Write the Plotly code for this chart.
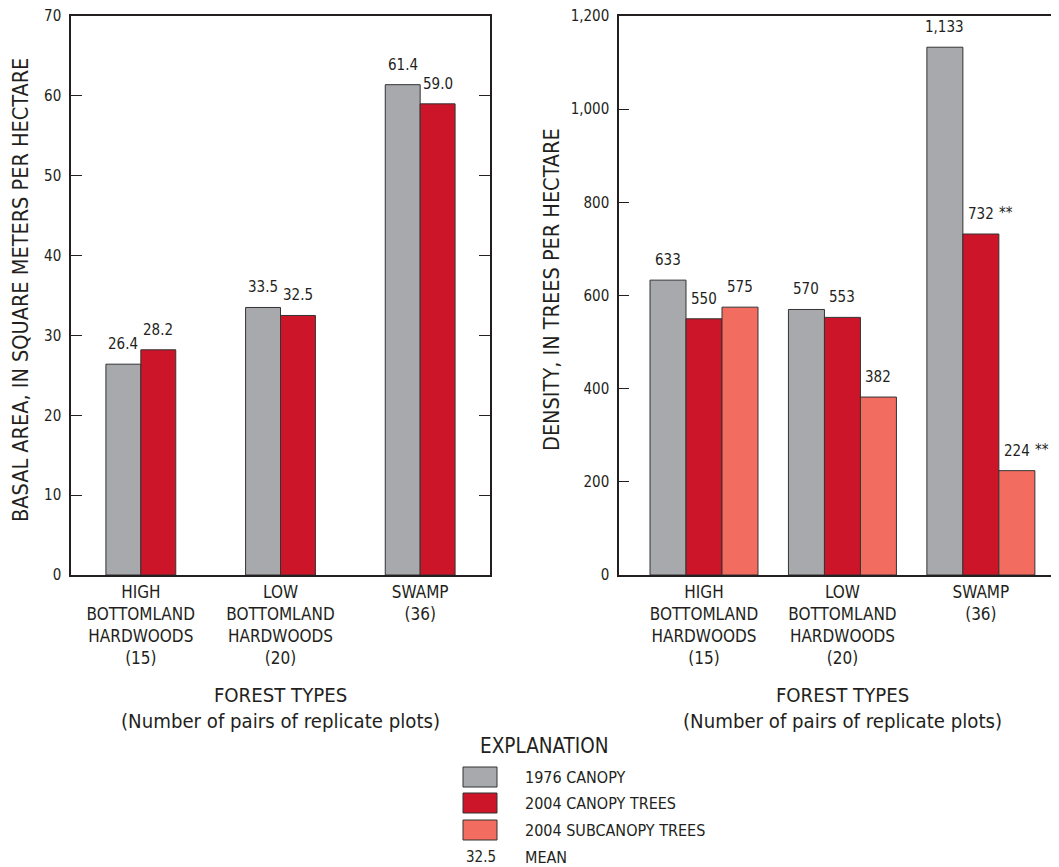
import plotly.graph_objects as go

# ---------------- data ----------------
categories = [
    "HIGH<br>BOTTOMLAND<br>HARDWOODS<br>(15)",
    "LOW<br>BOTTOMLAND<br>HARDWOODS<br>(20)",
    "SWAMP<br>(36)",
]
basal_1976 = [26.4, 33.5, 61.4]
basal_2004 = [28.2, 32.5, 59.0]
density_1976 = [633, 570, 1133]
density_2004_canopy = [550, 553, 732]
density_2004_subcanopy = [575, 382, 224]
density_2004_canopy_sig = ["", "", "**"]
density_2004_subcanopy_sig = ["", "", "**"]
basal_ticks = [0, 10, 20, 30, 40, 50, 60, 70]
density_ticks = [0, 200, 400, 600, 800, 1000, 1200]
legend_labels = ["1976 CANOPY", "2004 CANOPY TREES", "2004 SUBCANOPY TREES"]
mean_example = "32.5"
x_title = "FOREST TYPES<br>(Number of pairs of replicate plots)"
y_title_left = "BASAL AREA, IN SQUARE METERS PER HECTARE"
y_title_right = "DENSITY, IN TREES PER HECTARE"

# ---------------- style ----------------
W, H = 1059, 867
OFF = 8                      # page body margin
TOP, BOTTOM = 16 - OFF, 575 - OFF
FONT = "DejaVu Sans Condensed, Liberation Sans Narrow, sans-serif"
INK = "#231F20"
GRAY = "#A7A9AC"
RED = "#CC1528"
SALMON = "#F26D60"
EDGE = "#333333"
NUM_SIZE = 15
CAT_SIZE = 17

def px_x(p):
    return (p - OFF) / W

def px_y(p):
    return (BOTTOM - (p - OFF)) / (BOTTOM - TOP)

x_idx = list(range(len(categories)))

fig = go.Figure()

def add_bars(values, color, name, offset, width, xa, ya, fmt, sig=None):
    fig.add_trace(go.Bar(
        x=x_idx, y=values, offset=offset, width=width, name=name,
        marker=dict(color=color, line=dict(color=EDGE, width=1)),
        xaxis=xa, yaxis=ya, showlegend=False, hoverinfo="y",
    ))
    for i, v in enumerate(values):
        xc = i + offset + width / 2
        fig.add_annotation(
            x=xc, y=v, xref=xa, yref=ya, text=fmt(v), showarrow=False,
            yanchor="middle", yshift=20, font=dict(family=FONT, size=NUM_SIZE, color=INK),
        )
        if sig and sig[i]:
            fig.add_annotation(
                x=xc, y=v, xref=xa, yref=ya, text=sig[i], showarrow=False,
                xanchor="left", yanchor="middle", yshift=21, xshift=16,
                font=dict(family=FONT, size=15, color=INK),
            )

f1 = lambda v: f"{v:.1f}"
f2 = lambda v: f"{v:,}"

add_bars(basal_1976, GRAY, legend_labels[0], -0.25, 0.25, "x", "y", f1)
add_bars(basal_2004, RED, legend_labels[1], 0.0, 0.25, "x", "y", f1)
add_bars(density_1976, GRAY, legend_labels[0], -0.39, 0.26, "x2", "y2", f2)
add_bars(density_2004_canopy, RED, legend_labels[1], -0.13, 0.26, "x2", "y2", f2,
         density_2004_canopy_sig)
add_bars(density_2004_subcanopy, SALMON, legend_labels[2], 0.13, 0.26, "x2", "y2", f2,
         density_2004_subcanopy_sig)

axis_common = dict(showline=True, linecolor=INK, linewidth=1.5, showgrid=False,
                   zeroline=False)
yaxis_common = dict(ticks="inside", tickcolor=INK, tickwidth=1, mirror="ticks",
                    ticklabelstandoff=5, ticklabeloverflow="allow",
                    tickfont=dict(family=FONT, size=NUM_SIZE, color=INK), **axis_common)
xaxis_common = dict(tickvals=x_idx, ticktext=categories, ticks="", mirror=True,
                    ticklabelstandoff=1, tickfont=dict(family=FONT, size=CAT_SIZE, color=INK),
                    **axis_common)

fig.update_layout(
    width=W, height=H,
    margin=dict(l=0, r=0, t=TOP, b=H - BOTTOM),
    paper_bgcolor="white", plot_bgcolor="white",
    barmode="overlay",
    font=dict(family=FONT, color=INK),
    xaxis=dict(domain=[px_x(71), px_x(490)], range=[-0.5, 2.5], **xaxis_common),
    yaxis=dict(domain=[0, 1], range=[0, 70], tickvals=basal_ticks, ticklen=11,
               **yaxis_common),
    xaxis2=dict(domain=[px_x(619), px_x(1062)], range=[-0.614, 2.586], anchor="y2",
                **xaxis_common),
    yaxis2=dict(domain=[0, 1], range=[0, 1200], anchor="x2", tickvals=density_ticks,
                tickformat=",", ticklen=10, **yaxis_common),
)

# ---------------- axis titles ----------------
YT_FONT = dict(family=FONT, size=21.5, color=INK)
XT_FONT = dict(family=FONT, size=20.2, color=INK)
for xc, txt in [(20, y_title_left), (551, y_title_right)]:
    fig.add_annotation(x=px_x(xc), y=px_y(290), xref="paper", yref="paper", text=txt,
                       textangle=-90, showarrow=False, xanchor="center", yanchor="middle",
                       font=YT_FONT)
for xc in [280.5, 842]:
    fig.add_annotation(x=px_x(xc), y=px_y(708), xref="paper", yref="paper", text=x_title,
                       showarrow=False, xanchor="center", yanchor="middle", font=XT_FONT)

# ---------------- explanation (legend) ----------------
fig.add_annotation(x=px_x(544), y=px_y(746), xref="paper", yref="paper",
                   text="EXPLANATION", showarrow=False, xanchor="center", yanchor="middle",
                   font=dict(family=FONT, size=20.5, color=INK))
rows = [777, 803, 830]
for lab, col, r in zip(legend_labels, [GRAY, RED, SALMON], rows):
    fig.add_shape(type="rect", xref="paper", yref="paper",
                  x0=px_x(463), x1=px_x(497), y0=px_y(r - 10), y1=px_y(r + 10),
                  fillcolor=col, line=dict(color=EDGE, width=1))
    fig.add_annotation(x=px_x(523), y=px_y(r), xref="paper", yref="paper", text=lab,
                       showarrow=False, xanchor="left", yanchor="middle",
                       font=dict(family=FONT, size=16, color=INK))
fig.add_annotation(x=px_x(481), y=px_y(857), xref="paper", yref="paper", text=mean_example,
                   showarrow=False, xanchor="center", yanchor="middle",
                   font=dict(family=FONT, size=15, color=INK))
fig.add_annotation(x=px_x(523), y=px_y(857), xref="paper", yref="paper", text="MEAN",
                   showarrow=False, xanchor="left", yanchor="middle",
                   font=dict(family=FONT, size=16, color=INK))

fig.write_html("out.html")
